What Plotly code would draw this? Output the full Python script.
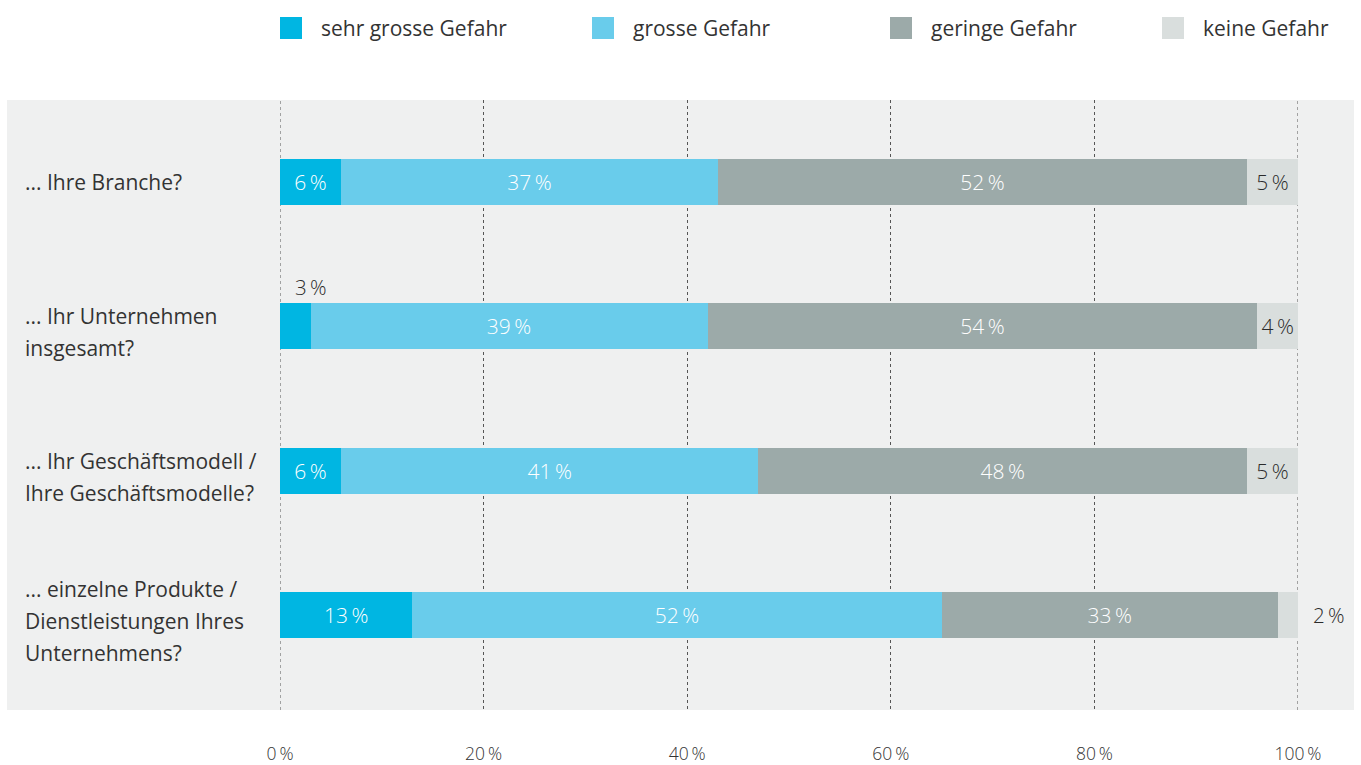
import plotly.graph_objects as go

# ---------------- data ----------------
categories = [
    "... Ihre Branche?",
    "... Ihr Unternehmen<br>insgesamt?",
    "... Ihr Geschäftsmodell /<br>Ihre Geschäftsmodelle?",
    "... einzelne Produkte /<br>Dienstleistungen Ihres<br>Unternehmens?",
]
series_names = ["sehr grosse Gefahr", "grosse Gefahr", "geringe Gefahr", "keine Gefahr"]
sehr_grosse = [6, 3, 6, 13]
grosse = [37, 39, 41, 52]
geringe = [52, 54, 48, 33]
keine = [5, 4, 5, 2]
tick_values = [0, 20, 40, 60, 80, 100]
tick_labels = ["0\u2009%", "20\u2009%", "40\u2009%", "60\u2009%", "80\u2009%", "100\u2009%"]

# ---------------- styles ----------------
colors = ["#00b6e2", "#69cceb", "#9caaa9", "#d9dedd"]
text_colors = ["#ffffff", "#ffffff", "#ffffff", "#2b2b2b"]
FONT = "Open Sans"
DARK = "#333333"
GRID = "#555555"
W, H = 1361, 765
ML, MR, MT, MB = 280, 63, 100, 55
PW, PH = W - ML - MR, H - MT - MB


def px2paper_x(px):
    return (px - ML) / PW


def px2paper_y(py):
    return (H - MB - py) / PH


all_series = [sehr_grosse, grosse, geringe, keine]
y_idx = list(range(len(categories)))

fig = go.Figure()
small_labels = []
for k, (name, vals) in enumerate(zip(series_names, all_series)):
    texts = []
    for i, v in enumerate(vals):
        if v < 4:
            texts.append("")
            base = sum(s[i] for s in all_series[:k])
            small_labels.append((k, i, v, base))
        else:
            texts.append(f"{v}\u2009%")
    fig.add_trace(go.Bar(
        name=name, y=y_idx, x=vals, orientation="h",
        marker=dict(color=colors[k], line=dict(width=0)),
        width=0.32,
        text=texts, textposition="inside", insidetextanchor="middle",
        textangle=0,
        textfont=dict(family=FONT, size=21, color=text_colors[k], weight=300),
        showlegend=False, hoverinfo="skip",
    ))

annotations = []
# labels for tiny segments
for k, i, v, base in small_labels:
    if k == 0:
        annotations.append(dict(x=base + v, y=i, xref="x", yref="y",
                                text=f"{v}\u2009%", showarrow=False,
                                xanchor="center", yanchor="middle", yshift=39,
                                font=dict(family=FONT, size=20.5, color="#2b2b2b", weight=300)))
    else:
        annotations.append(dict(x=base + v, y=i, xref="x", yref="y",
                                text=f"{v}\u2009%", showarrow=False,
                                xanchor="left", yanchor="middle", xshift=13,
                                font=dict(family=FONT, size=20.5, color="#2b2b2b", weight=300)))

# category labels (left aligned, one annotation per line)
LINE_H = 32
for i, cat in enumerate(categories):
    lines = cat.split("<br>")
    n = len(lines)
    for j, ln in enumerate(lines):
        off = (j - (n - 1) / 2) * LINE_H + (6 if n > 1 else 0)
        annotations.append(dict(x=px2paper_x(23), y=i, xref="paper", yref="y",
                                text=ln, showarrow=False, xanchor="left",
                                yanchor="middle", yshift=-off,
                                font=dict(family=FONT, size=21, color=DARK)))

# background band, edge grid lines, manual legend (large squares)
legend_px = [280, 592, 890, 1162]
shapes = [dict(type="rect", xref="paper", yref="paper", layer="below",
               x0=px2paper_x(7), x1=px2paper_x(1354), y0=0, y1=1,
               fillcolor="#eff0f0", line=dict(width=0))]
for tv in (tick_values[0], tick_values[-1]):
    shapes.append(dict(type="line", xref="x", yref="paper", layer="below",
                       x0=tv, x1=tv, y0=0, y1=1,
                       line=dict(color=GRID, width=1, dash="dot")))
for name, c, lx in zip(series_names, colors, legend_px):
    shapes.append(dict(type="rect", xref="paper", yref="paper",
                       x0=px2paper_x(lx), x1=px2paper_x(lx + 22),
                       y0=px2paper_y(39), y1=px2paper_y(17),
                       fillcolor=c, line=dict(width=0)))
    annotations.append(dict(x=px2paper_x(lx + 39), y=px2paper_y(28),
                            xref="paper", yref="paper", text=name,
                            showarrow=False, xanchor="left", yanchor="middle",
                            font=dict(family=FONT, size=21, color=DARK)))

fig.update_layout(
    template="none",
    width=W, height=H,
    margin=dict(l=ML, r=MR, t=MT, b=MB, pad=0),
    barmode="stack",
    paper_bgcolor="#ffffff",
    plot_bgcolor="#eff0f0",
    font=dict(family=FONT, color=DARK),
    showlegend=False,
    shapes=shapes,
    annotations=annotations,
    xaxis=dict(range=[0, 100], tickvals=tick_values, ticktext=tick_labels,
               showgrid=True, gridcolor=GRID, gridwidth=1, griddash="dot",
               zeroline=False, showline=False, ticks="", automargin=False,
               ticklabelstandoff=31,
               tickfont=dict(family=FONT, size=17.5, color=DARK, weight=300),
               fixedrange=True),
    yaxis=dict(range=[3.66, -0.57], showticklabels=False, showgrid=False,
               zeroline=False, showline=False, ticks="", automargin=False,
               fixedrange=True),
)

fig.write_html("out.html", config={"displayModeBar": False})
